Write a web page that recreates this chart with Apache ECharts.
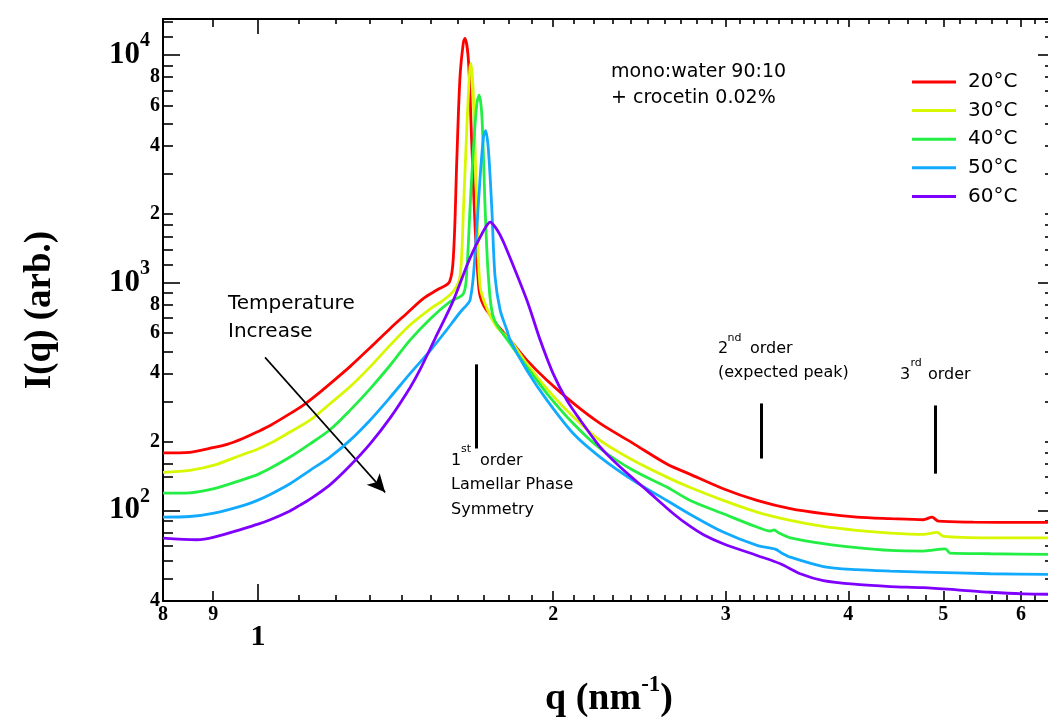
<!DOCTYPE html>
<html><head><meta charset="utf-8">
<script src="https://cdn.jsdelivr.net/npm/echarts@6/dist/echarts.min.js"></script>
<style>html,body{margin:0;padding:0;background:#fff}#c{width:1048px;height:720px}</style>
</head><body><div id="c"></div>
<script>
// ---- data (q in nm^-1, I in arb.) ----
const q20 = [0.80,0.852,0.902,0.93,0.965,1.0,1.029,1.078,1.117,1.157,1.203,1.241,1.301,1.364,1.418,1.475,1.522,1.568,1.583,1.595,1.607,1.620,1.626,1.639,1.652,1.665,1.678,1.685,1.70,1.725,1.75,1.808,1.88,1.971,2.098,2.233,2.413,2.612,2.76,2.982,3.228,3.491,3.772,4.08,4.414,4.77,4.87,4.943,5.365,6.0,6.5];
const i20 = [179,180,189,195,207,222,236,266,294,331,381,428,518,630,733,854,929,1008,1350,3460,8000,11400,11840,9520,4100,1760,995,870,790,720,660,560,457,373,295,241,197,160,144,124.5,110.6,101.7,96.7,93.4,92,91,93.4,89.7,88.8,88.6,88.6];

const q30 = [0.80,0.852,0.902,0.965,1.0,1.029,1.078,1.130,1.184,1.241,1.301,1.364,1.429,1.5,1.546,1.583,1.607,1.620,1.633,1.645,1.649,1.658,1.672,1.685,1.712,1.752,1.808,1.88,1.971,2.098,2.233,2.413,2.612,2.76,2.982,3.228,3.491,3.772,4.08,4.414,4.77,4.928,5.005,5.584,6.5];
const i30 = [147,150,158,176,186,197,221,249,294,349,427,532,652,770,839,920,1060,2083,4810,8850,9200,6790,2083,958,770,640,560,441,342,257,203,166,140,126,110.6,98.3,90.4,85,81.7,79.5,78.4,80,76.9,75.8,75.8];

const q40 = [0.80,0.852,0.902,0.965,1.0,1.029,1.078,1.130,1.184,1.241,1.301,1.364,1.429,1.5,1.568,1.620,1.633,1.645,1.658,1.672,1.681,1.692,1.705,1.718,1.739,1.808,1.88,1.971,2.098,2.233,2.413,2.612,2.76,2.982,3.228,3.33,3.36,3.40,3.491,3.772,4.08,4.414,4.77,5.024,5.083,5.584,6.5];
const i40 = [119,119.5,124.5,136.5,144,153,171.5,196,226,275,342,434,560,697,822,895,1137,2083,3823,6130,6670,5340,2083,1060,700,540,427,326,240,187,150,126.6,110.6,96.7,84.5,81.2,82.0,79.5,75.8,71.4,68.6,66.7,66.3,67.8,64.9,64.5,64.1];

const q50 = [0.80,0.852,0.902,0.965,1.0,1.029,1.078,1.130,1.184,1.241,1.301,1.364,1.429,1.5,1.555,1.607,1.633,1.645,1.658,1.672,1.685,1.698,1.707,1.718,1.732,1.745,1.766,1.794,1.808,1.88,1.971,2.098,2.233,2.413,2.612,2.76,2.982,3.228,3.37,3.42,3.491,3.772,4.08,4.414,4.77,5.584,6.5];
const i50 = [93.4,94,97.3,105,111,117.5,131,150,171.5,203,249,314,399,506,615,740,800,835,1060,1760,2920,4350,4650,3823,2083,1060,758,620,560,413,305,217,171.5,135.5,110.6,96,80.3,70.2,67.6,65.0,62.3,56.7,54.9,54.1,53.6,52.7,52.3];

const q60 = [0.80,0.866,0.902,0.965,1.0,1.029,1.078,1.104,1.130,1.184,1.241,1.301,1.364,1.429,1.463,1.516,1.581,1.634,1.658,1.685,1.705,1.725,1.745,1.766,1.794,1.882,1.940,2.0,2.065,2.132,2.233,2.341,2.493,2.653,2.76,2.85,2.982,3.228,3.41,3.573,3.772,4.08,4.414,4.77,5.164,5.584,6.034,6.5];
const i60 = [75.6,74.3,76.3,83,87,91,99.5,105.5,112,129.4,157,196,255,346,415,570,830,1196,1380,1585,1740,1846,1760,1617,1393,830,560,399,305,249,190,155,122.4,96.7,85,78,71.4,63.4,58.3,52.7,49.2,47.3,46.3,45.8,44.8,43.7,43.0,42.8];

const seriesNames  = ['20°C','30°C','40°C','50°C','60°C'];
const seriesColors = ['#ff0000','#d7f800','#22ee44','#11aaff','#8000ff'];
const seriesQ = [q20,q30,q40,q50,q60];
const seriesI = [i20,i30,i40,i50,i60];

// axis ranges and ticks
const xRange = [0.8, 6.5];
const yRange = [40, 14400];
const xMajorTicks = [1];
const xLabelTicks = [0.8,0.9,2,3,4,5,6];
const xMinorTicks = [1.1,1.2,1.3,1.4,1.5,1.6,1.7,1.8,1.9,2.1,2.2,2.3,2.4,2.5,2.6,2.7,2.8,2.9,3.1,3.2,3.3,3.4,3.5,3.6,3.7,3.8,3.9,4.2,4.4,4.6,4.8,5.2,5.4,5.6,5.8,6.2,6.4];
const yMajorTicks = [100,1000,10000];
const yLabelTicks = [40,200,400,600,800,2000,4000,6000,8000];
const yMinorTicks = [50,60,70,80,90,120,140,160,180,300,500,700,900,1200,1400,1600,1800,3000,5000,7000,9000,12000,14000];

// reference markers (q position, I from, I to)
const markerQ    = [1.669, 3.262, 4.908];
const markerIlo  = [187, 169, 145];
const markerIhi  = [438, 295, 289];
const arrowFrom  = [1.0166, 470];
const arrowTo    = [1.348, 120];

const serif = '"Liberation Serif", "Times New Roman", serif';
const sans  = '"DejaVu Sans", sans-serif';

function xAx(pos, ticks, len, lineShow, labelCfg, extra) {
  return Object.assign({
    type:'log', logBase:10, min:xRange[0], max:xRange[1], position:pos, gridIndex:0,
    axisLine:{show:lineShow, onZero:false, lineStyle:{color:'#000', width:2}},
    axisTick:{show:true, inside:true, length:len, customValues:ticks, lineStyle:{color:'#000', width:1.6}},
    axisLabel: labelCfg || {show:false},
    splitLine:{show:false}, minorTick:{show:false}, minorSplitLine:{show:false}
  }, extra || {});
}
function yAx(pos, ticks, len, lineShow, labelCfg, extra) {
  return Object.assign({
    type:'log', logBase:10, min:yRange[0], max:yRange[1], position:pos, gridIndex:0,
    axisLine:{show:lineShow, onZero:false, lineStyle:{color:'#000', width:2}},
    axisTick:{show:true, inside:true, length:len, customValues:ticks, lineStyle:{color:'#000', width:1.6}},
    axisLabel: labelCfg || {show:false},
    splitLine:{show:false}, minorTick:{show:false}, minorSplitLine:{show:false}
  }, extra || {});
}
const yOther = yLabelTicks.concat(yMinorTicks).sort((a,b)=>a-b);

const xAxes = [
  xAx('bottom', xMajorTicks, 17, true,
    {show:true, customValues:xMajorTicks, margin:21, color:'#000', fontFamily:serif, fontWeight:'bold', fontSize:30,
     formatter:v=>String(Math.round(v))},
    {name:'{n|q (nm}{s|-1}{n|)}', nameLocation:'middle', nameGap:73,
     nameTextStyle:{rich:{n:{fontFamily:serif, fontWeight:'bold', fontSize:38, color:'#000'},
                          s:{fontFamily:serif, fontWeight:'bold', fontSize:23, color:'#000', padding:[0,0,27,0]}}}}),
  xAx('bottom', xLabelTicks, 10, false,
    {show:true, customValues:xLabelTicks, margin:4, color:'#000', fontFamily:serif, fontWeight:'bold', fontSize:20,
     formatter:v=> v<1 ? String(Math.round(v*10)) : String(Math.round(v))}),
  xAx('bottom', xMinorTicks, 6, false),
  xAx('top', xMajorTicks, 15, true),
  xAx('top', xLabelTicks, 8, false),
  xAx('top', xMinorTicks, 5, false)
];
const yAxes = [
  yAx('left', yMajorTicks, 17, true,
    {show:true, customValues:yMajorTicks, margin:13, color:'#000',
     formatter:v=>'{b|10}{s|'+Math.round(Math.log10(v))+'}',
     rich:{b:{fontFamily:serif, fontWeight:'bold', fontSize:31, color:'#000'},
           s:{fontFamily:serif, fontWeight:'bold', fontSize:20, color:'#000', padding:[0,0,28,0]}}},
    {name:'I(q) (arb.)', nameLocation:'middle', nameGap:104,
     nameTextStyle:{fontFamily:serif, fontWeight:'bold', fontSize:37, color:'#000'}}),
  yAx('left', yOther, 10, false,
    {show:true, customValues:yLabelTicks, margin:3, color:'#000', fontFamily:serif, fontWeight:'bold', fontSize:20,
     formatter:v=>{const e=Math.floor(Math.log10(v)+1e-9); return String(Math.round(v/Math.pow(10,e)));}}),
  yAx('right', yMajorTicks, 17, true),
  yAx('right', yOther, 10, false)
];

const series = seriesNames.map((nm, k) => ({
  name:nm, type:'line', xAxisIndex:0, yAxisIndex:0,
  data: seriesQ[k].map((q, j) => [q, seriesI[k][j]]),
  showSymbol:false, symbol:'none', smooth:0.3,
  lineStyle:{color:seriesColors[k], width:2.8}, itemStyle:{color:seriesColors[k]},
  emphasis:{disabled:true}, silent:true, z:2+k
}));
// marker lines and arrow (drawn in data coordinates)
series.push({
  type:'line', xAxisIndex:0, yAxisIndex:0, data:[], silent:true, z:10,
  markLine:{
    silent:true, animation:false, label:{show:false}, emphasis:{disabled:true},
    symbol:['none','none'],
    data: markerQ.map((q,k)=>[{coord:[q, markerIlo[k]], lineStyle:{color:'#000', width:3, type:'solid'}},
                               {coord:[q, markerIhi[k]]}]).concat([
      [{coord:arrowFrom, symbol:'none', lineStyle:{color:'#000', width:1.6, type:'solid'}},
       {coord:arrowTo, symbol:'arrow', symbolSize:[13,18]}]
    ])
  }
});

const txt = (s, x, y, size) => ({type:'text', x, y, silent:true,
  style:{text:s, font: size+'px '+sans, fill:'#000', verticalAlign:'middle', align:'left'}});

const option = {
  animation:false,
  backgroundColor:'#fff',
  grid:{left:163, top:19, width:892, height:582, containLabel:false, outerBoundsMode:'none'},
  xAxis:xAxes, yAxis:yAxes,
  legend:{orient:'vertical', left:912, top:72, padding:0, itemWidth:44, itemHeight:3, itemGap:8.6, icon:'rect',
    textStyle:{fontFamily:sans, fontSize:20, color:'#000', padding:[0,0,0,7], lineHeight:20},
    data:seriesNames, selectedMode:false},
  series,
  graphic:[
    txt('mono:water 90:10', 611, 72, 19),
    txt('+ crocetin 0.02%', 611, 98, 19),
    txt('Temperature', 228, 304, 20),
    txt('Increase', 228, 332, 20),
    txt('1', 451, 461, 16), txt('st', 461, 449, 11), txt('order', 480, 461, 16),
    txt('Lamellar Phase', 451, 485, 16),
    txt('Symmetry', 451, 510, 16),
    txt('2', 718, 349, 16), txt('nd', 727.5, 338, 11), txt('order', 750, 349, 16),
    txt('(expected peak)', 718, 373, 16),
    txt('3', 900, 375, 16), txt('rd', 910.5, 363, 11), txt('order', 928, 375, 16)
  ]
};
const chart = echarts.init(document.getElementById('c'), null, {renderer:'canvas'});
chart.setOption(option);
</script></body></html>
